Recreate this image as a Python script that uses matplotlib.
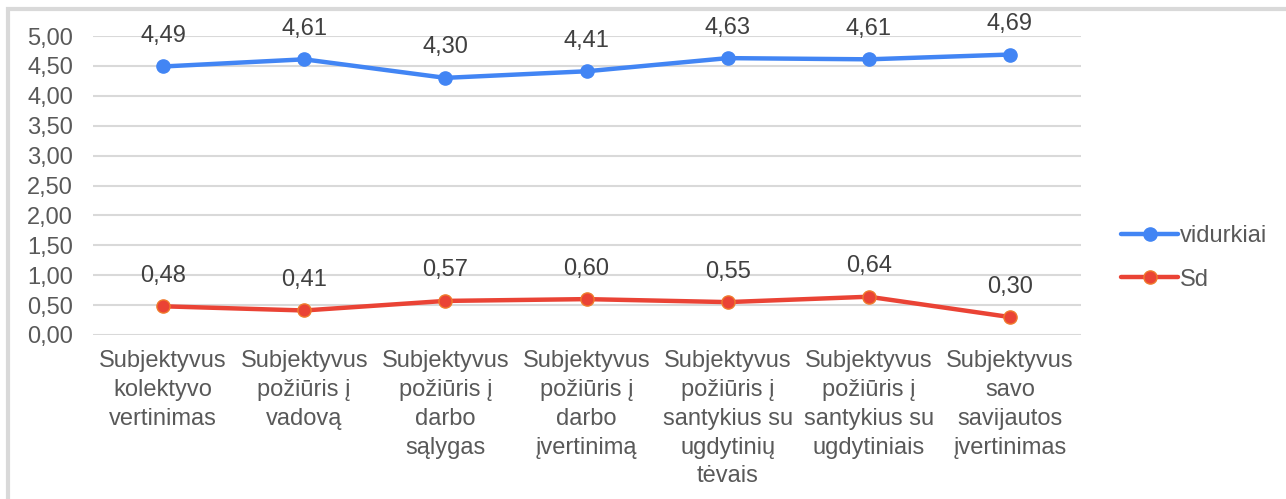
import numpy as np
import matplotlib.pyplot as plt
from matplotlib.patches import Rectangle

plt.rcParams['font.family'] = ['Liberation Sans', 'DejaVu Sans']

categories = [
    "Subjektyvus\nkolektyvo\nvertinimas",
    "Subjektyvus\npožiūris į\nvadovą",
    "Subjektyvus\npožiūris į\ndarbo\nsąlygas",
    "Subjektyvus\npožiūris į\ndarbo\nįvertinimą",
    "Subjektyvus\npožiūris į\nsantykius su\nugdytinių\ntėvais",
    "Subjektyvus\npožiūris į\nsantykius su\nugdytiniais",
    "Subjektyvus\nsavo\nsavijautos\nįvertinimas",
]
vidurkiai = [4.49, 4.61, 4.30, 4.41, 4.63, 4.61, 4.69]
sd = [0.48, 0.41, 0.57, 0.60, 0.55, 0.64, 0.30]
yticks = [0, 0.5, 1, 1.5, 2, 2.5, 3, 3.5, 4, 4.5, 5]

text_col = "#595959"
blue = "#4285F4"
red = "#EA4335"
fs = 17

fig = plt.figure(figsize=(12.86, 4.99), dpi=100)
# light frame around the chart
fig.patches.append(Rectangle((8 / 1286, -0.05), 1.2, 1.05 - 9 / 499, transform=fig.transFigure,
                             fill=False, edgecolor="#d9d9d9", linewidth=3))
ax = fig.add_axes([92.5 / 1286, 1 - 335 / 499, (1080.5 - 92.5) / 1286, 299 / 499])

x = np.arange(len(categories))
ax.plot(x, vidurkiai, color=blue, lw=3.2, marker="o", ms=9.5, mfc=blue, mec=blue,
        solid_capstyle="round", label="vidurkiai", zorder=3)
ax.plot(x, sd, color=red, lw=3.2, marker="o", ms=9.5, mfc=red, mec="#F07B2C", mew=1,
        solid_capstyle="round", label="Sd", zorder=3)

for ys in [vidurkiai, sd]:
    for xi, yi in zip(x, ys):
        ax.annotate(f"{yi:.2f}".replace(".", ","), (xi, yi), xytext=(0, 22),
                    textcoords="offset points", ha="center", va="center",
                    fontsize=fs, color="#404040")

ax.set_xlim(-0.5, len(categories) - 0.5)
ax.set_ylim(0, 5)
ax.set_yticks(yticks)
ax.set_yticklabels([f"{t:.2f}".replace(".", ",") for t in yticks], fontsize=fs, color=text_col)
ax.set_xticks(x)
ax.set_xticklabels(categories, fontsize=fs, color=text_col, linespacing=1.4)
ax.tick_params(axis="both", length=0)
ax.tick_params(axis="y", pad=14)
ax.tick_params(axis="x", pad=11)
ax.grid(axis="y", color="#d9d9d9", lw=1.5)
ax.set_axisbelow(True)
for s in ax.spines.values():
    s.set_visible(False)

leg = fig.legend(loc="center left", bbox_to_anchor=(1100 / 1286, 1 - 258 / 499), frameon=False,
                 fontsize=fs, handlelength=2.4, handletextpad=0.1, labelspacing=0.9,
                 labelcolor=text_col)

fig.savefig("out.png", dpi=100)
